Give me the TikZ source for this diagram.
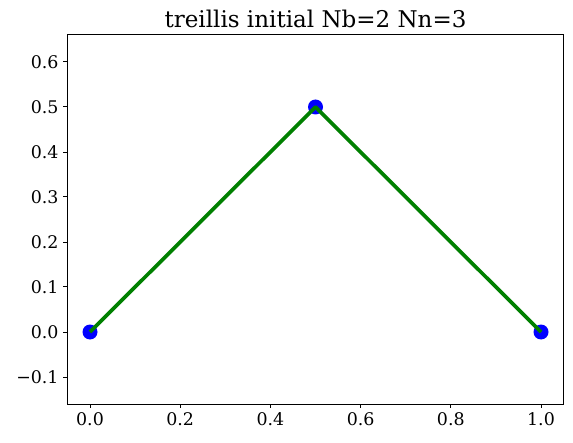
\documentclass[tikz,border=0pt]{standalone}
\usepackage{fontspec}
\setmainfont{DejaVu Serif}
\definecolor{mplblue}{RGB}{0,0,255}
\definecolor{mplgreen}{RGB}{0,128,0}

\begin{document}
\begin{tikzpicture}[
    x=451pt, y=450pt,
    every node/.style={inner sep=0pt, font=\fontsize{17.4}{20}\selectfont},
    joint/.style={circle, fill=mplblue, minimum size=15pt},
    bar/.style={draw=mplgreen, line width=3.7pt, line join=round},
    frame/.style={draw=black, line width=1pt},
    tickmark/.style={draw=black, line width=1pt},
    ttl/.style={font=\fontsize{23}{26}\selectfont}
]
    \useasboundingbox (-90pt,-110pt) rectangle (483pt,332pt);

    % Axes frame
    \draw[frame] (-0.05,-0.16) rectangle (1.05,0.66);

    % Ticks and tick labels
    \foreach \v/\t in {0/0.0,0.2/0.2,0.4/0.4,0.6/0.6,0.8/0.8,1/1.0} {
        \draw[tickmark] (\v,-0.16) -- ++(0,-4.35pt);
        \node[anchor=north] (xl\t) at ([yshift=-8.7pt]\v,-0.16) {\t};
    }
    \foreach \v/\t in {-0.1/−0.1,0/0.0,0.1/0.1,0.2/0.2,0.3/0.3,0.4/0.4,0.5/0.5,0.6/0.6} {
        \draw[tickmark] (-0.05,\v) -- ++(-4.35pt,0);
        \node[anchor=east] (yl\v) at ([xshift=-8.7pt]-0.05,\v) {\t};
    }

    % Title
    \node[ttl, anchor=base] (title) at ([yshift=7.5pt]0.5,0.66) {treillis initial Nb=2 Nn=3};

    % Joints
    \node[joint] (n1) at (0,0) {};
    \node[joint] (n2) at (0.5,0.5) {};
    \node[joint] (n3) at (1,0) {};

    % Bars
    \draw[bar] (n1.center) -- (n2.center) -- (n3.center);
\end{tikzpicture}
\end{document}
